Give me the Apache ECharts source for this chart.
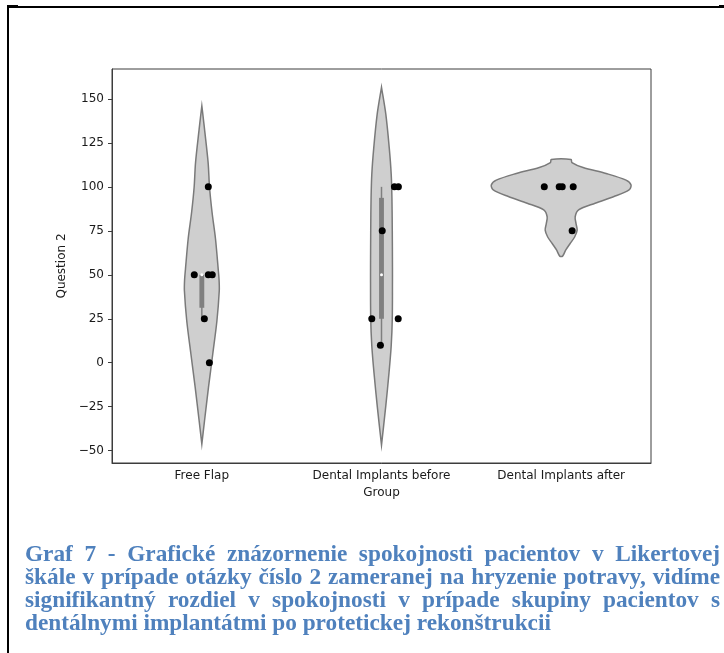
<!DOCTYPE html>
<html><head><meta charset="utf-8">
<script src="https://cdn.jsdelivr.net/npm/echarts@6/dist/echarts.min.js"></script>
<style>
html,body{margin:0;padding:0;background:#fff;overflow:hidden;}
#chart{position:absolute;left:0;top:0;width:724px;height:653px;}
.cap{position:absolute;left:25px;width:695px;top:542px;font-family:"Liberation Serif","Times New Roman",serif;font-weight:bold;font-size:23.3px;line-height:23px;color:#4f81bd;}
.cap div{text-align:justify;text-align-last:justify;}
.cap div.last{text-align-last:left;}
.bl{position:absolute;background:#000;}
</style></head><body>
<div id="chart"></div>
<div class="bl" style="left:7px;top:6px;width:2px;height:647px"></div>
<div class="bl" style="left:7px;top:6px;width:713px;height:1.5px"></div>
<div class="bl" style="left:7px;top:5px;width:11px;height:2.5px"></div>
<div class="bl" style="left:719px;top:5px;width:5px;height:3px"></div>
<div class="cap">
<div>Graf 7 - Grafické znázornenie spokojnosti pacientov v Likertovej</div>
<div>škále v prípade otázky číslo 2 zameranej na hryzenie potravy, vidíme</div>
<div>signifikantný rozdiel v spokojnosti v prípade skupiny pacientov s</div>
<div class="last">dentálnymi implantátmi po protetickej rekonštrukcii</div>
</div>
<script>
// ---- data ----
const categories = ['Free Flap', 'Dental Implants before', 'Dental Implants after'];
const yMin = -57, yMax = 167, yStep = 25;

// individual answers (strip plot) and their horizontal jitter (fraction of category)
const pointsFreeFlap = [100, 50, 50, 50, 25, 0];
const jitterFreeFlap = [0.036, -0.042, 0.036, 0.058, 0.014, 0.042];
const pointsBefore = [100, 100, 75, 25, 25, 10];
const jitterBefore = [0.072, 0.094, 0.004, -0.054, 0.093, -0.006];
const pointsAfter = [100, 100, 100, 100, 75];
const jitterAfter = [-0.094, -0.011, 0.006, 0.067, 0.061];

// inner box statistics per group
const boxQ1 = [31.25, 25, 100];
const boxQ3 = [50, 93.75, 100];
const boxMedian = [50, 50, 100];
const whiskerLow = [25, 10, 100];
const whiskerHigh = [50, 100, 100];

// violin outlines: value and half-width (fraction of category)
const violinFFValues = [146, 140, 132.8, 113.8, 99.6, 85.4, 70.5, 53.4, 47, 40.9, 23.9, 5.1, -14, -33, -46.2];
const violinFFWidths = [0, 0.007, 0.015, 0.035, 0.043, 0.057, 0.076, 0.091, 0.096, 0.097, 0.084, 0.061, 0.037, 0.015, 0];
const violinBeforeValues = [156.6, 141.3, 122.3, 107.2, 93.9, 75, 54.2, 45.6, 24.8, 9.7, -5.5, -24.4, -46.8];
const violinBeforeWidths = [0, 0.024, 0.043, 0.054, 0.058, 0.060, 0.061, 0.061, 0.060, 0.054, 0.042, 0.024, 0];
const violinAfterValues = [115.5, 113.8, 111, 107.6, 103.8, 101, 98.3, 94.5, 90.7, 86.9, 83, 79, 75.4, 71.5, 67.8, 64, 60.6];
const violinAfterWidths = [0.055, 0.06, 0.122, 0.25, 0.361, 0.389, 0.378, 0.294, 0.189, 0.097, 0.078, 0.083, 0.089, 0.075, 0.05, 0.025, 0.008];

const violins = [
  {v: violinFFValues, w: violinFFWidths},
  {v: violinBeforeValues, w: violinBeforeWidths},
  {v: violinAfterValues, w: violinAfterWidths}
];
const stripSets = [[pointsFreeFlap, jitterFreeFlap], [pointsBefore, jitterBefore], [pointsAfter, jitterAfter]];

const stripData = [];
stripSets.forEach((s, i) => s[0].forEach((v, k) => stripData.push([i + s[1][k], v])));

const chart = echarts.init(document.getElementById('chart'), null, {renderer: 'canvas'});
const font = 'DejaVu Sans';
const axisCol = '#3c3c3c';

chart.setOption({
  animation: false,
  backgroundColor: 'transparent',
  grid: {left: 112, top: 69, right: 73, bottom: 190, show: true, borderColor: axisCol, borderWidth: 1, containLabel: false},
  xAxis: [{
    type: 'category', data: categories, boundaryGap: true,
    name: 'Group', nameLocation: 'middle', nameGap: 23,
    nameTextStyle: {fontFamily: font, fontSize: 12, color: '#1a1a1a'},
    axisLine: {onZero: false, lineStyle: {color: axisCol, width: 1}},
    axisTick: {alignWithLabel: true, length: 4, lineStyle: {color: axisCol}},
    axisLabel: {fontFamily: font, fontSize: 12, color: '#1a1a1a', margin: 7},
    splitLine: {show: false}
  }, {
    type: 'value', min: -0.5, max: 2.5, show: false
  }],
  yAxis: {
    type: 'value', min: yMin, max: yMax, minInterval: yStep, maxInterval: yStep, splitNumber: 9,
    name: 'Question 2', nameLocation: 'middle', nameGap: 34, nameRotate: 90,
    nameTextStyle: {fontFamily: font, fontSize: 12, color: '#1a1a1a'},
    axisLine: {show: true, onZero: false, lineStyle: {color: axisCol, width: 1}},
    axisTick: {show: true, length: 4, lineStyle: {color: axisCol}},
    axisLabel: {fontFamily: font, fontSize: 12, color: '#1a1a1a', margin: 8, showMinLabel: false, showMaxLabel: false,
      formatter: v => (v < 0 ? '\u2212' + Math.abs(v) : String(v))},
    splitLine: {show: false}
  },
  series: [{
    type: 'custom', xAxisIndex: 0, z: 2,
    data: categories.map((c, i) => [i, 0]),
    encode: {x: 0, y: 1},
    renderItem: function (params, api) {
      const i = api.value(0);
      const p = violins[i];
      const band = api.size([1, 0])[0];
      const right = [], left = [];
      for (let k = 0; k < p.v.length; k++) {
        const c = api.coord([i, p.v[k]]);
        right.push([c[0] + p.w[k] * band, c[1]]);
        left.push([c[0] - p.w[k] * band, c[1]]);
      }
      return {type: 'polygon', shape: {points: right.concat(left.reverse()), smooth: 0.3},
        style: {fill: '#cfcfcf', stroke: '#7a7a7a', lineWidth: 1.5}};
    }
  }, {
    type: 'custom', xAxisIndex: 0, z: 3,
    data: categories.map((c, i) => [i, boxMedian[i]]),
    encode: {x: 0, y: 1},
    renderItem: function (params, api) {
      const i = api.value(0);
      const band = api.size([1, 0])[0];
      const lo = api.coord([i, whiskerLow[i]]), hi = api.coord([i, whiskerHigh[i]]);
      const q1 = api.coord([i, boxQ1[i]]), q3 = api.coord([i, boxQ3[i]]);
      const md = api.coord([i, boxMedian[i]]);
      const bw = band * 0.027;
      const children = [
        {type: 'line', shape: {x1: lo[0], y1: lo[1], x2: hi[0], y2: hi[1]}, style: {stroke: '#7f7f7f', lineWidth: 1.5}},
        {type: 'rect', shape: {x: q3[0] - bw / 2, y: q3[1], width: bw, height: q1[1] - q3[1]}, style: {fill: '#7f7f7f'}},
        {type: 'circle', shape: {cx: md[0], cy: md[1], r: 1.5}, style: {fill: '#ffffff'}}
      ];
      return {type: 'group', children: children};
    }
  }, {
    type: 'scatter', xAxisIndex: 1, z: 4,
    data: stripData, symbolSize: 7,
    itemStyle: {color: '#000000', opacity: 1}
  }]
});
</script>
</body></html>
